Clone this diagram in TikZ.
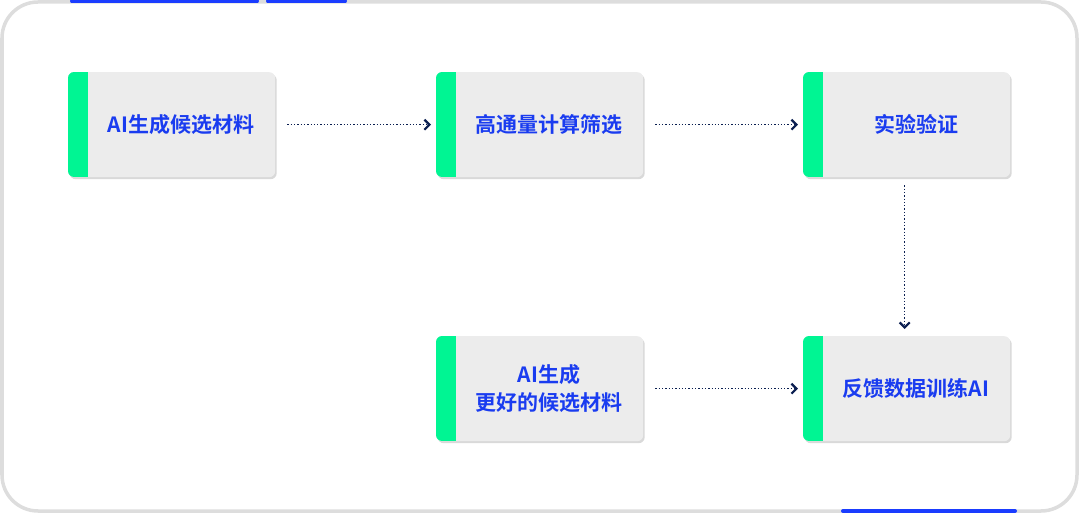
\documentclass[tikz,border=0pt]{standalone}
\usepackage{fontspec}
\newfontfamily\cjk[BoldFont={Noto Sans CJK SC Bold}]{Noto Sans CJK SC}
\usetikzlibrary{arrows.meta,shadows}
\definecolor{frameg}{HTML}{DDDDDD}
\definecolor{bluebar}{HTML}{1A3CFF}
\definecolor{txtblue}{HTML}{1A3CF0}
\definecolor{greenstrip}{HTML}{00F593}
\definecolor{boxgrey}{HTML}{ECECEC}
\definecolor{navy}{HTML}{0A1E50}
\begin{document}
\begin{tikzpicture}[x=1pt,y=-1pt,
  stepbox/.style={draw=none,fill=boxgrey,rounded corners=6pt,minimum width=207pt,minimum height=105pt,anchor=north west,
    drop shadow={shadow xshift=1.5pt,shadow yshift=-2pt,opacity=0.3}},
  lbl/.style={font=\cjk\bfseries\fontsize{21}{28}\selectfont,text=txtblue,align=center},
  conn/.style={draw=navy,line width=1.3pt,dotted,-{Straight Barb[length=5pt,width=10pt,line width=2.2pt]}}]
\useasboundingbox (0,0) rectangle (1080,513);
\draw[frameg,line width=3.5pt,rounded corners=36pt] (2,2) rectangle (1077,511);
\foreach \a/\b/\yy in {72/257/1.5,268/345/1.5,843/1015/511}
  \draw[bluebar,line width=4pt,line cap=round] (\a,\yy) -- (\b,\yy);
\foreach \n/\x/\y in {b1/68/72,b2/436/72,b3/803/72,b4/436/336,b5/803/336}{
  \node[stepbox] (\n) at (\x,\y) {};
  \begin{scope}
  \clip[rounded corners=6pt] (\x,\y) rectangle ++(207,105);
  \fill[greenstrip] (\x,\y) rectangle ++(20,105);
  \end{scope}
}
\node[lbl] (t1) at (181,124.5) {AI生成候选材料};
\node[lbl] (t2) at (549,124.5) {高通量计算筛选};
\node[lbl] (t3) at (916,124.5) {实验验证};
\node[lbl] (t4) at (549,388.5) {AI生成\\更好的候选材料};
\node[lbl] (t5) at (916,388.5) {反馈数据训练AI};
\draw[conn] ([xshift=12pt]b1.east) -- ([xshift=-5pt]b2.west);
\draw[conn] ([xshift=12pt]b2.east) -- ([xshift=-5pt]b3.west);
\draw[conn] ([yshift=-8pt,xshift=-2pt]b3.south) -- ([yshift=7pt,xshift=-2pt]b5.north);
\draw[conn] ([xshift=12pt]b4.east) -- ([xshift=-5pt]b5.west);
\end{tikzpicture}
\end{document}
